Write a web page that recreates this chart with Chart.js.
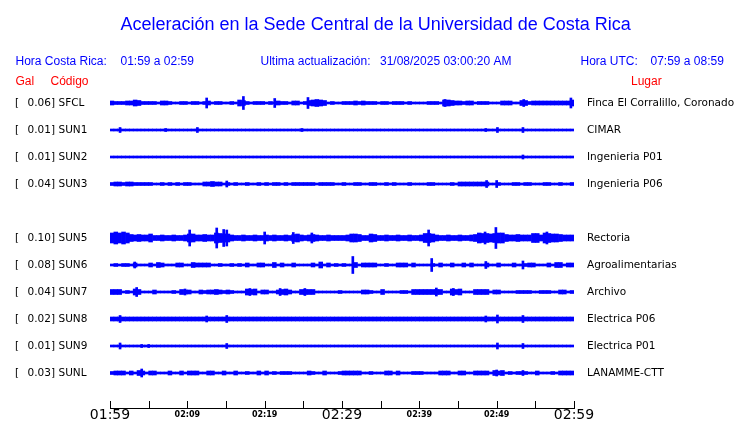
<!DOCTYPE html>
<html>
<head>
<meta charset="utf-8">
<title>Aceleración Sede Central UCR</title>
<script src="https://cdn.jsdelivr.net/npm/chart.js@4.4.1/dist/chart.umd.min.js"></script>
<style>
  html, body { margin: 0; padding: 0; background: #fff; }
  canvas { display: block; }
</style>
</head>
<body>
<canvas id="sismo" width="740" height="423"></canvas>
<script>
// Aceleracion en la Sede Central - one hour of records, 10 stations
// amp*  = half amplitude of the envelope per 30 s bin
// peaks* = short isolated spikes as [minute, half amplitude]

const stationCodes = ['SFCL', 'SUN1', 'SUN2', 'SUN3', 'SUN4', 'SUN5', 'SUN6', 'SUN7', 'SUN8', 'SUN9', 'SUNL'];
const galValues = [0.06, 0.01, 0.01, 0.04, null, 0.10, 0.08, 0.04, 0.02, 0.01, 0.03];
const stationPlaces = ['Finca El Corralillo, Coronado', 'CIMAR', 'Ingenieria P01', 'Ingenieria P06', null,
  'Rectoria', 'Agroalimentarias', 'Archivo', 'Electrica P06', 'Electrica P01', 'LANAMME-CTT'];

const timeLabels = ['01:59', '02:09', '02:19', '02:29', '02:39', '02:49', '02:59'];
const bigLabels = ['01:59', '02:29', '02:59'];

const ampSFCL = [
  2, 1.5, 1.5, 1.5, 2, 2, 3, 2.5, 1.5, 1.5,
  1.5, 1.5, 1, 2, 2, 1.5, 1, 1, 1.5, 1.5,
  1, 1.5, 1.5, 1, 1.5, 2, 1, 1.5, 1.5, 1,
  1, 1.5, 1, 3, 2.5, 1.5, 1, 1.5, 1.5, 1.5,
  1, 1.5, 1, 2, 1.5, 1.5, 1, 2, 2, 1,
  1.5, 2.5, 3, 3.5, 3, 2.5, 1, 1.5, 1, 1,
  1.5, 1.5, 1.5, 2, 1.5, 2, 1.5, 1.5, 1.5, 1,
  1.5, 1.5, 1, 1.5, 1.5, 1.5, 1, 1.5, 1, 1,
  1, 1, 1.5, 1.5, 1.5, 1, 3, 3, 2.5, 2,
  2, 1.5, 2, 2, 1, 1.5, 1.5, 1.5, 1, 1,
  1, 2, 2, 2, 1, 1, 2.5, 2.5, 1.5, 2,
  2, 2, 2, 2, 2, 2, 2, 2, 2, 3
];
const ampSUN1 = [
  1, 1, 1, 1, 1, 1, 1, 1, 1, 1,
  1, 1, 1, 1, 1, 1, 1, 1, 1, 1,
  1, 1, 1, 1, 1, 1, 1, 1, 1, 1,
  1, 1, 1, 1, 1, 1, 1, 1, 1, 1,
  1, 1, 1, 1, 1, 1, 1, 1, 1, 1,
  1, 1, 1, 1, 1, 1, 1, 1, 1, 1,
  1, 1, 1, 1, 1, 1, 1, 1, 1, 1,
  1, 1, 1, 1, 1, 1, 1, 1, 1, 1,
  1, 1, 1, 1, 1, 1, 1, 1, 1, 1,
  1, 1, 1, 1, 1, 1, 1, 1, 1, 1,
  1, 1, 1, 1, 1, 1, 1, 1, 1, 1,
  1, 1, 1, 1, 1, 1, 1, 1, 1, 1
];
const ampSUN2 = [
  1, 1, 1, 1, 1, 1, 1, 1, 1, 1,
  1, 1, 1, 1, 1, 1, 1, 1, 1, 1,
  1, 1, 1, 1, 1, 1, 1, 1, 1, 1,
  1, 1, 1, 1, 1, 1, 1, 1, 1, 1,
  1, 1, 1, 1, 1, 1, 1, 1, 1, 1,
  1, 1, 1, 1, 1, 1, 1, 1, 1, 1,
  1, 1, 1, 1, 1, 1, 1, 1, 1, 1,
  1, 1, 1, 1, 1, 1, 1, 1, 1, 1,
  1, 1, 1, 1, 1, 1, 1, 1, 1, 1,
  1, 1, 1, 1, 1, 1, 1, 1, 1, 1,
  1, 1, 1, 1, 1, 1, 1, 1, 1, 1,
  1, 1, 1, 1, 1, 1, 1, 1, 1, 1
];
const ampSUN3 = [
  1.5, 2, 2, 1.5, 2, 2, 1.5, 1.5, 1.5, 1.5,
  1.5, 1, 1, 1.5, 1, 1.5, 1, 1.5, 1, 1.5,
  1.5, 1, 1, 1, 2, 2, 2.5, 2, 2, 1,
  1.5, 1, 1.5, 1, 1, 1.5, 1, 1, 1.5, 1,
  1.5, 1, 1.5, 1.5, 1, 1.5, 1, 1.5, 1.5, 1.5,
  1.5, 1.5, 1.5, 1, 1.5, 1.5, 1.5, 1.5, 1, 1,
  1.5, 1, 1, 1.5, 1.5, 1, 1, 1.5, 1.5, 1,
  1, 1.5, 1, 1.5, 1, 1, 1, 1.5, 1, 1,
  1, 1, 1.5, 1.5, 1, 1, 1, 1, 1.5, 1,
  2, 2, 2, 2, 2, 2, 2, 2, 1, 1,
  1.5, 1, 1, 1, 1.5, 1.5, 1, 1.5, 1.5, 1,
  1, 1, 1.5, 1.5, 1, 1, 1.5, 1, 1, 1.5
];
const ampSUN5 = [
  5, 6, 5, 6, 5, 3.5, 3, 3.5, 3, 3,
  4, 2.5, 2.5, 3, 2.5, 2.5, 3, 2.5, 2.5, 3,
  4, 4, 3, 3, 3.5, 3, 3, 5, 4.5, 4,
  4, 3, 2.5, 2.5, 3, 2.5, 2.5, 3, 2.5, 2.5,
  3, 2.5, 3, 2.5, 2.5, 3, 2.5, 3.5, 4, 3,
  2.5, 3, 3.5, 3, 2.5, 2.5, 3, 2.5, 2.5, 2.5,
  2.5, 3, 4, 4, 3.5, 2.5, 2.5, 4, 3.5, 2.5,
  2.5, 3, 2.5, 2.5, 3, 2.5, 2.5, 3, 2.5, 2.5,
  3, 4.5, 4.5, 4, 3, 2.5, 2.5, 3, 2.5, 2.5,
  3, 2.5, 2.5, 3, 3.5, 5, 4.5, 4.5, 4, 4.5,
  5, 5, 3.5, 3, 3, 3.5, 3, 3, 3, 4.5,
  4.5, 3, 5, 4.5, 4, 4, 3.5, 3, 3, 3
];
const ampSUN6 = [
  1, 1.5, 1, 1.5, 1.5, 1, 2, 1, 1, 1,
  2, 1, 2.5, 2, 1, 1, 1, 2, 2, 1,
  1, 2.5, 2, 2, 2, 2, 1, 1, 1.5, 1,
  1, 1.5, 1, 1.5, 1, 2, 1, 1, 2, 2,
  1, 1, 2.5, 1, 2, 1, 1, 2, 1, 1,
  1, 1, 2, 1, 3, 1, 2, 1, 1.5, 1,
  1.5, 1, 1, 2.5, 1, 2, 2, 2, 2, 1,
  1, 1.5, 1, 1, 2, 2, 2, 1, 2, 1,
  1, 1, 1, 1.5, 1, 2, 1, 1, 2, 1,
  1, 2, 1, 2, 1, 1, 1, 2, 1, 1,
  2, 1, 1, 1, 2, 1, 1, 1.5, 2, 2,
  1, 1, 1, 2, 1, 2.5, 2.5, 1, 2, 2
];
const ampSUN7 = [
  2.5, 2.5, 2.5, 1, 1.5, 1, 3, 2.5, 1, 1,
  1, 2, 1, 1, 1, 1, 1.5, 1, 2.5, 2,
  2, 1, 1, 2, 1.5, 2, 2, 2.5, 2, 1.5,
  2, 1.5, 1, 1, 1, 3, 2.5, 3, 1, 2,
  2, 1, 1, 2, 2.5, 3, 2, 1, 1, 2.5,
  2.5, 2.5, 2.5, 1, 1, 1, 1, 1, 1, 1.5,
  1, 1, 1, 1, 1, 2, 2, 1.5, 1, 1,
  2.5, 1, 1, 1, 1, 1.5, 1.5, 1, 2.5, 2.5,
  2.5, 2.5, 2.5, 2.5, 2.5, 2.5, 1, 1, 3, 2.5,
  3, 1, 1, 1, 2.5, 2.5, 2.5, 2.5, 1, 2,
  2, 1, 1, 1, 1, 1.5, 1.5, 1.5, 1.5, 1,
  1, 1.5, 1.5, 1.5, 1, 1, 2, 2, 1, 1.5
];
const ampSUN8 = [
  2, 2, 2, 2, 2, 2, 2, 2, 2, 2,
  2, 2, 2, 2, 2, 2, 2, 2, 2, 2,
  2, 2, 2, 2, 2, 2, 2, 2, 2, 2,
  2, 2, 2, 2, 2, 2, 2, 2, 2, 2,
  2, 2, 2, 2, 2, 2, 2, 2, 2, 2,
  2, 2, 2, 2, 2, 2, 2, 2, 2, 2,
  2, 2, 2, 2, 2, 2, 2, 2, 2, 2,
  2, 2, 2, 2, 2, 2, 2, 2, 2, 2,
  2, 2, 2, 2, 2, 2, 2, 2, 2, 2,
  2, 2, 2, 2, 2, 2, 2, 2, 2, 2,
  2, 2, 2, 2, 2, 2, 2, 2, 2, 2,
  2, 2, 2, 2, 2, 2, 2, 2, 2, 2
];
const ampSUN9 = [
  1, 1, 1, 1, 1, 1, 1, 1, 1, 1,
  1, 1, 1, 1, 1, 1, 1, 1, 1, 1,
  1, 1, 1, 1, 1, 1, 1, 1, 1, 1,
  1, 1, 1, 1, 1, 1, 1, 1, 1, 1,
  1, 1, 1, 1, 1, 1, 1, 1, 1, 1,
  1, 1, 1, 1, 1, 1, 1, 1, 1, 1,
  1, 1, 1, 1, 1, 1, 1, 1, 1, 1,
  1, 1, 1, 1, 1, 1, 1, 1, 1, 1,
  1, 1, 1, 1, 1, 1, 1, 1, 1, 1,
  1, 1, 1, 1, 1, 1, 1, 1, 1, 1,
  1, 1, 1, 1, 1, 1, 1, 1, 1, 1,
  1, 1, 1, 1, 1, 1, 1, 1, 1, 1
];
const ampSUNL = [
  1.5, 2, 2, 2, 1, 2, 1, 2.5, 2, 1,
  2, 2, 1, 1, 1, 2, 1, 1, 2, 1,
  2, 2, 2, 1, 1, 2, 2, 1, 1, 2,
  1, 1, 2, 1, 1, 1.5, 1, 1, 2, 1,
  2, 1, 1.5, 1, 1.5, 1.5, 1.5, 1, 1, 1,
  1, 2, 1.5, 1, 1, 2, 1, 1, 1, 1.5,
  2, 2, 2, 2, 2, 1, 1, 1.5, 1, 1,
  1, 2, 2, 1, 2, 1, 1, 1, 1.5, 1.5,
  1.5, 1, 1, 1, 1, 2, 2, 2, 1, 1,
  2, 2, 1, 1, 2, 2, 2, 2, 1, 2.5,
  2, 2.5, 1, 1.5, 1, 1.5, 1.5, 1.5, 1, 1,
  2, 1, 1, 1, 1.5, 1, 2, 2, 2, 2
];

const peaksSFCL = [[12.5, 5], [17.25, 6.5], [21.3, 4.5], [25.6, 5.5], [43.3, 3.5], [53.5, 3.5], [59.6, 5]];
const peaksSUN1 = [[1.3, 2.5], [7.2, 1.5], [11.3, 2.5], [24.8, 1.5], [48.6, 1.5], [50.1, 2.5], [53.4, 2.5]];
const peaksSUN2 = [[53.4, 2]];
const peaksSUN3 = [[15.1, 3], [48.7, 3.5], [50, 3.5]];
const peaksSUN5 = [[10.3, 8], [13.8, 10], [14.7, 8.5], [15.1, 8], [20, 6], [23.7, 5.5], [26.1, 5],
  [41.2, 8], [48.5, 6], [49.9, 10.5], [56.5, 6]];
const peaksSUN6 = [[3.2, 3], [31.4, 8.5], [41.6, 6.5], [48.6, 3.5], [53.4, 4]];
const peaksSUN7 = [[3.45, 4.5], [9.7, 3], [18.1, 3.5], [22, 3.5], [25.2, 3.5], [42.2, 4], [44.4, 3.5]];
const peaksSUN8 = [[1.3, 3.5], [12.5, 3], [15.1, 3.5], [48.6, 3], [50.1, 4], [53.4, 3.5]];
const peaksSUN9 = [[1.3, 3], [4.1, 1.5], [5, 1.5], [15.1, 2.5], [50.1, 3], [53.4, 2.5]];
const peaksSUNL = [[4.1, 4], [50, 3], [53.4, 2.5]];

// SUN4 has no record in this hour (empty row)
const traces = [ampSFCL, ampSUN1, ampSUN2, ampSUN3, null, ampSUN5, ampSUN6, ampSUN7, ampSUN8, ampSUN9, ampSUNL];
const peaks = [peaksSFCL, peaksSUN1, peaksSUN2, peaksSUN3, null, peaksSUN5, peaksSUN6, peaksSUN7, peaksSUN8, peaksSUN9, peaksSUNL];

const MINUTES = 60;
const BIN_MIN = 0.5;
const PX_PER_ROW = 27; // amplitudes are in pixels of the original plot
const BLUE = '#0000ff';

const binLabels = ampSFCL.map((a, i) => i * BIN_MIN);

const datasets = [];
traces.forEach((amps, row) => {
  if (!amps) return;
  datasets.push({
    label: stationCodes[row],
    xAxisID: 'x',
    data: amps.map(a => [row - a / PX_PER_ROW, row + a / PX_PER_ROW]),
    backgroundColor: BLUE,
    borderWidth: 0,
    grouped: false,
    barPercentage: 1,
    categoryPercentage: 1
  });
  datasets.push({
    label: stationCodes[row] + ' picos',
    xAxisID: 'xt',
    data: peaks[row].map(([t, a]) => ({ x: t, y: [row - a / PX_PER_ROW, row + a / PX_PER_ROW] })),
    backgroundColor: BLUE,
    borderWidth: 0,
    grouped: false,
    barThickness: 2
  });
});

function tickFont(ctx) {
  const v = ctx && ctx.tick ? ctx.tick.value : 0;
  const lbl = timeLabels[v / 10];
  if (v % 10 !== 0 || bigLabels.includes(lbl)) {
    return { family: '"DejaVu Sans", sans-serif', size: 14, lineHeight: 1 };
  }
  return { family: '"DejaVu Sans", sans-serif', size: 8, weight: 'bold', lineHeight: 1.75 };
}

const headerPlugin = {
  id: 'header',
  beforeDraw(chart) {
    const ctx = chart.ctx;
    ctx.save();
    ctx.fillStyle = '#fff';
    ctx.fillRect(0, 0, chart.width, chart.height);
    ctx.textBaseline = 'alphabetic';
    ctx.textAlign = 'left';
    ctx.fillStyle = BLUE;
    ctx.font = '18px "Liberation Sans", Arial, sans-serif';
    ctx.fillText('Aceleración en la Sede Central de la Universidad de Costa Rica', 120.5, 29.5);
    ctx.font = '12px "Liberation Sans", Arial, sans-serif';
    ctx.fillText('Hora Costa Rica:', 15.5, 65);
    ctx.fillText('01:59 a 02:59', 120.5, 65);
    ctx.fillText('Ultima actualización:', 260.5, 65);
    ctx.fillText('31/08/2025 03:00:20 AM', 380, 65);
    ctx.fillText('Hora UTC:', 580.5, 65);
    ctx.fillText('07:59 a 08:59', 650.5, 65);
    ctx.fillStyle = '#ff0000';
    ctx.fillText('Gal', 15.5, 84.5);
    ctx.fillText('Código', 50.5, 84.5);
    ctx.fillText('Lugar', 631, 84.5);
    ctx.restore();
  },
  afterDraw(chart) {
    const ctx = chart.ctx;
    const y = chart.scales.y;
    const area = chart.chartArea;
    ctx.save();
    // station labels, one per row
    ctx.fillStyle = '#000';
    ctx.font = '10.5px "DejaVu Sans", sans-serif';
    ctx.textBaseline = 'middle';
    ctx.textAlign = 'left';
    stationCodes.forEach((code, row) => {
      if (galValues[row] === null) return;
      const py = y.getPixelForValue(row);
      ctx.fillText('[', 15, py);
      ctx.fillText(galValues[row].toFixed(2) + ']', 27.5, py);
      ctx.fillText(code, 58.5, py);
      ctx.fillText(stationPlaces[row], area.right + 13, py);
    });
    // time axis line with short ticks standing on it
    const xt = chart.scales.xt;
    const base = Math.round(area.bottom);
    const x0 = Math.round(xt.getPixelForValue(0));
    const x1 = Math.round(xt.getPixelForValue(MINUTES));
    ctx.fillStyle = '#000';
    ctx.fillRect(x0, base, x1 - x0 + 1, 1);
    xt.ticks.forEach(t => {
      const px = Math.round(xt.getPixelForValue(t.value));
      ctx.fillRect(px, base - 7, 1, 7);
    });
    ctx.restore();
  }
};

new Chart(document.getElementById('sismo'), {
  type: 'bar',
  data: { labels: binLabels, datasets },
  options: {
    responsive: false,
    animation: false,
    devicePixelRatio: 1,
    layout: { padding: { left: 110, right: 166, top: 88, bottom: 1 } },
    plugins: { legend: { display: false }, tooltip: { enabled: false }, title: { display: false } },
    scales: {
      x: { type: 'category', display: false, offset: true },
      xt: {
        type: 'linear',
        position: 'bottom',
        offset: false,
        min: 0,
        max: MINUTES,
        grid: { display: false, offset: false, drawOnChartArea: false, drawTicks: false },
        border: { display: true, color: '#000', width: 1 },
        ticks: {
          stepSize: 5,
          autoSkip: false,
          maxRotation: 0,
          minRotation: 0,
          padding: 0,
          color: '#000',
          callback: v => (v % 10 === 0 ? timeLabels[v / 10] : ''),
          font: tickFont
        }
      },
      y: { type: 'linear', display: false, reverse: true, min: -0.5556, max: 11.2963 }
    }
  },
  plugins: [headerPlugin]
});
</script>
</body>
</html>
